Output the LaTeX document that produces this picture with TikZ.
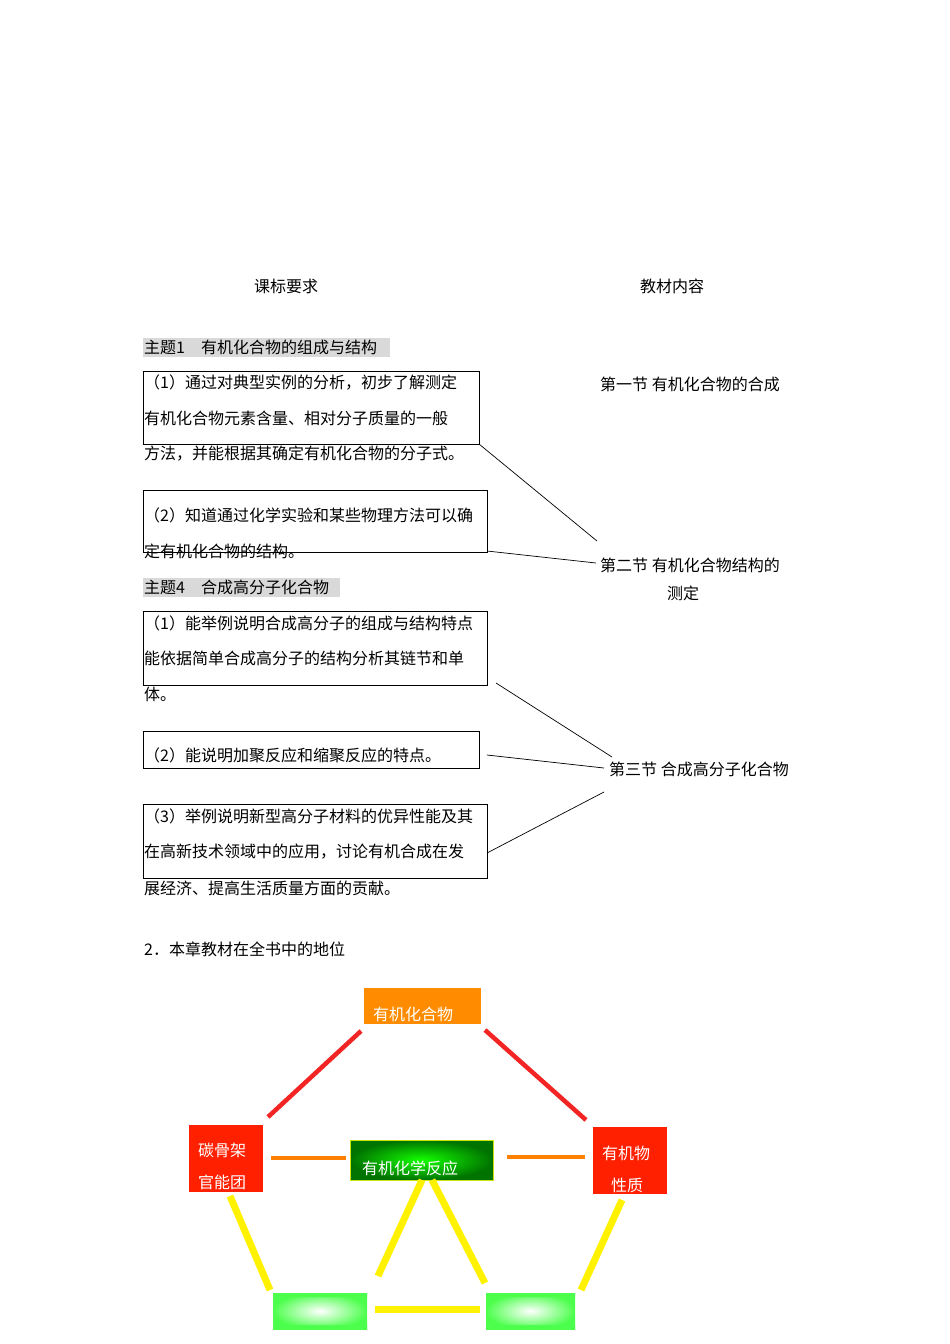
\documentclass[tikz,border=0pt]{standalone}
\usepackage{fontspec}
\setmainfont{Noto Sans CJK SC}
\begin{document}
\begin{tikzpicture}[x=1pt,y=-1pt,
  txt/.style={anchor=west,inner sep=0pt,font=\fontsize{16pt}{16pt}\selectfont},
  frame/.style={draw=black,line width=0.8pt},
  conn/.style={draw=black,line width=0.7pt},
  wt/.style={inner sep=0pt,text=white,font=\fontsize{16pt}{16pt}\selectfont}]
\useasboundingbox (0,0) rectangle (950,1344);
\fill[white] (0,0) rectangle (950,1344);
% headings
\node[txt,anchor=center] (h1) at (286,286) {课标要求};
\node[txt,anchor=center] (h2) at (672,286) {教材内容};
\fill[gray!30] (143,338) rectangle (390,357);
\node[txt] (t1) at (144,347) {主题1\quad 有机化合物的组成与结构};
\fill[gray!30] (143,578) rectangle (340,597);
\node[txt] (t4) at (144,587) {主题4\quad 合成高分子化合物};
% boxes
\draw[frame] (143,371) rectangle (479,444);
\node[txt] at (144,383) {（1）通过对典型实例的分析，初步了解测定};
\node[txt] at (144,418) {有机化合物元素含量、相对分子质量的一般};
\node[txt] at (144,454) {方法，并能根据其确定有机化合物的分子式。};
\draw[frame] (143,490) rectangle (487,552);
\node[txt] at (144,515) {（2）知道通过化学实验和某些物理方法可以确};
\node[txt] at (144,551) {定有机化合物的结构。};
\draw[frame] (143,611) rectangle (487,685);
\node[txt] at (144,623) {（1）能举例说明合成高分子的组成与结构特点};
\node[txt] at (144,658) {能依据简单合成高分子的结构分析其链节和单};
\node[txt] at (144,694) {体。};
\draw[frame] (143,731) rectangle (479,768);
\node[txt] at (144,755) {（2）能说明加聚反应和缩聚反应的特点。};
\draw[frame] (143,804) rectangle (487,878);
\node[txt] at (144,816) {（3）举例说明新型高分子材料的优异性能及其};
\node[txt] at (144,852) {在高新技术领域中的应用，讨论有机合成在发};
\node[txt] at (144,888) {展经济、提高生活质量方面的贡献。};
% right column
\node[txt] (s1) at (600,384) {第一节 有机化合物的合成};
\node[txt] (s2) at (600,565) {第二节 有机化合物结构的};
\node[txt,anchor=center] (s2b) at (683,593) {测定};
\node[txt] (s3) at (609,769) {第三节 合成高分子化合物};
\draw[conn] (479,444) -- (597,541);
\draw[conn] (487,551) -- (596,563);
\draw[conn] (496,683) -- (612,757);
\draw[conn] (487,755) -- (604,768);
\draw[conn] (487,853) -- (604,792);
\node[txt] (sec2) at (144,949) {2．本章教材在全书中的地位};
% bottom diagram
\fill[orange!90!yellow] (364,988) rectangle (481,1024);
\node[wt,anchor=west] (a) at (373,1014) {有机化合物};
\fill[red!80!orange!90!black] (189,1125) rectangle (263,1192);
\fill[red!75!orange] (189,1125) rectangle (263,1192);
\node[wt,anchor=west] (b1) at (198,1150) {碳骨架};
\node[wt,anchor=west] (b2) at (198,1182) {官能团};
\fill[red!75!orange] (593,1127) rectangle (667,1194);
\node[wt,anchor=west] (c1) at (602,1153) {有机物};
\node[wt,anchor=west] (c2) at (611,1185) {性质};
\begin{scope}
\clip (350,1140) rectangle (493,1180);
\shade[inner color=green!90!lime,outer color=green!45!black] (350,1140) rectangle (493,1180);
\end{scope}
\draw[yellow!80!green,line width=0.8pt] (350,1140) rectangle (493,1180);
\node[wt,anchor=west] (m) at (362,1168) {有机化学反应};
\begin{scope}
\clip (273,1293) rectangle (367,1329);
\shade[inner color=white,outer color=green!70!white] (273,1293) rectangle (367,1329);
\end{scope}
\begin{scope}
\clip (486,1293) rectangle (575,1329);
\shade[inner color=white,outer color=green!70!white] (486,1293) rectangle (575,1329);
\end{scope}
\fill[green!70!white] (273,1293) rectangle (367,1297) (273,1325) rectangle (367,1329);
\fill[green!70!white] (486,1293) rectangle (575,1297) (486,1325) rectangle (575,1329);
\draw[red!80!pink!95!black,line width=4.5pt] (361,1031) -- (268,1117);
\draw[red!80!pink!95!black,line width=4.5pt] (485,1030) -- (586,1120);
\draw[orange,line width=4pt] (271,1158) -- (346,1158);
\draw[orange,line width=4pt] (507,1157) -- (585,1157);
\begin{scope}[yellow,line width=7pt]
\draw (230,1196) -- (270,1290);
\draw (422,1180) -- (378,1276);
\draw (432,1180) -- (485,1283);
\draw (622,1200) -- (581,1290);
\draw (375,1309) -- (480,1309);
\end{scope}
\end{tikzpicture}
\end{document}
